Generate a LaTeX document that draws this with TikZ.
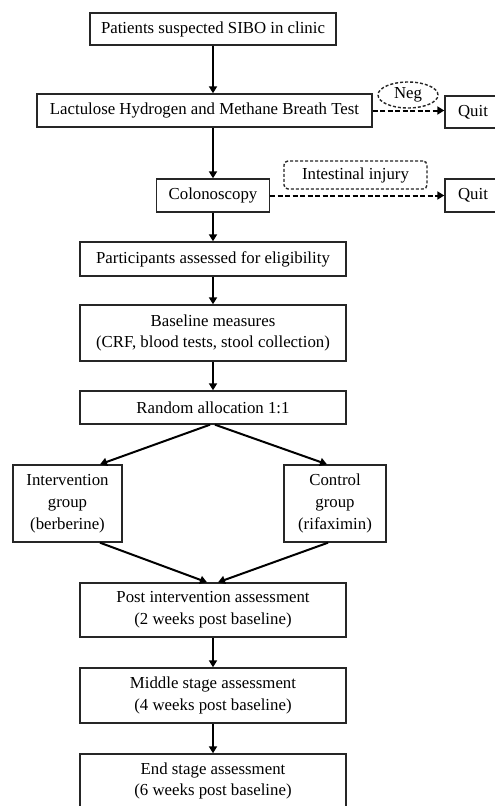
\documentclass[tikz,border=0pt]{standalone}
\usepackage{fontspec}
\setmainfont{Liberation Serif}
\usetikzlibrary{arrows.meta,shapes.geometric}
\begin{document}
\begin{tikzpicture}[x=1pt,y=-1pt,
  box/.style={draw=black!85,line width=1.4pt,rectangle,align=center,inner sep=0pt,
    font=\fontsize{16.8}{21.8}\selectfont},
  arr/.style={line width=2pt,-{Triangle[length=7pt,width=8pt]}},
  darr/.style={line width=2pt,dash pattern=on 5pt off 2.5pt,-{Triangle[length=7pt,width=8pt]}}]
\clip (0,0) rectangle (495,806);
\fill[white] (0,0) rectangle (495,806);
\node[box,minimum width=246pt,minimum height=32pt] (p1) at (213,29) {Patients suspected SIBO in clinic};
\node[box,minimum width=335pt,minimum height=33pt] (p2) at (204.5,110.5) {Lactulose Hydrogen and Methane Breath Test};
\node[box,ellipse,dash pattern=on 3pt off 2pt,minimum width=60pt,minimum height=26pt] (neg) at (408,95) {Neg};
\node[box,minimum width=56pt,minimum height=32pt] (q1) at (473,112) {Quit};
\node[box,minimum width=113pt,minimum height=33pt] (p3) at (213,195.5) {Colonoscopy};
\node[box,rounded corners=4pt,dash pattern=on 3pt off 2pt,minimum width=143pt,minimum height=28pt] (inj) at (355.5,175) {Intestinal injury};
\node[box,minimum width=56pt,minimum height=33pt] (q2) at (473,195.5) {Quit};
\node[box,minimum width=266pt,minimum height=34pt] (p4) at (213,259) {Participants assessed for eligibility};
\node[box,minimum width=266pt,minimum height=56pt] (p5) at (213,333) {Baseline measures\\(CRF, blood tests, stool collection)};
\node[box,minimum width=266pt,minimum height=33pt] (p6) at (213,407.5) {Random allocation 1:1};
\node[box,minimum width=109pt,minimum height=77pt] (ig) at (67.5,503.5) {Intervention\\group\\(berberine)};
\node[box,minimum width=102pt,minimum height=77pt] (cg) at (335,503.5) {Control\\group\\(rifaximin)};
\node[box,minimum width=266pt,minimum height=54pt] (p7) at (213,610) {Post intervention assessment\\(2 weeks post baseline)};
\node[box,minimum width=266pt,minimum height=55pt] (p8) at (213,695.5) {Middle stage assessment\\(4 weeks post baseline)};
\node[box,minimum width=266pt,minimum height=54pt] (p9) at (213,781) {End stage assessment\\(6 weeks post baseline)};
\draw[arr] (p1.south) -- (p1.south |- p2.north);
\draw[arr] (p3.north |- p2.south) -- (p3.north);
\draw[darr] (p2.east) -- (p2.east -| q1.west);
\draw[darr] (p3.east) -- (p3.east -| q2.west);
\draw[arr] (p3.south) -- (p3.south |- p4.north);
\draw[arr] (p4.south) -- (p5.north);
\draw[arr] (p5.south) -- (p6.north);
\draw[arr] ([xshift=-3pt]p6.south) -- ([xshift=32.5pt]ig.north);
\draw[arr] ([xshift=2pt]p6.south) -- ([xshift=-8pt]cg.north);
\draw[arr] ([xshift=32.5pt]ig.south) -- ([xshift=-6pt]p7.north);
\draw[arr] ([xshift=-7pt]cg.south) -- ([xshift=5pt]p7.north);
\draw[arr] (p7.south) -- (p8.north);
\draw[arr] (p8.south) -- (p9.north);
\end{tikzpicture}
\end{document}
